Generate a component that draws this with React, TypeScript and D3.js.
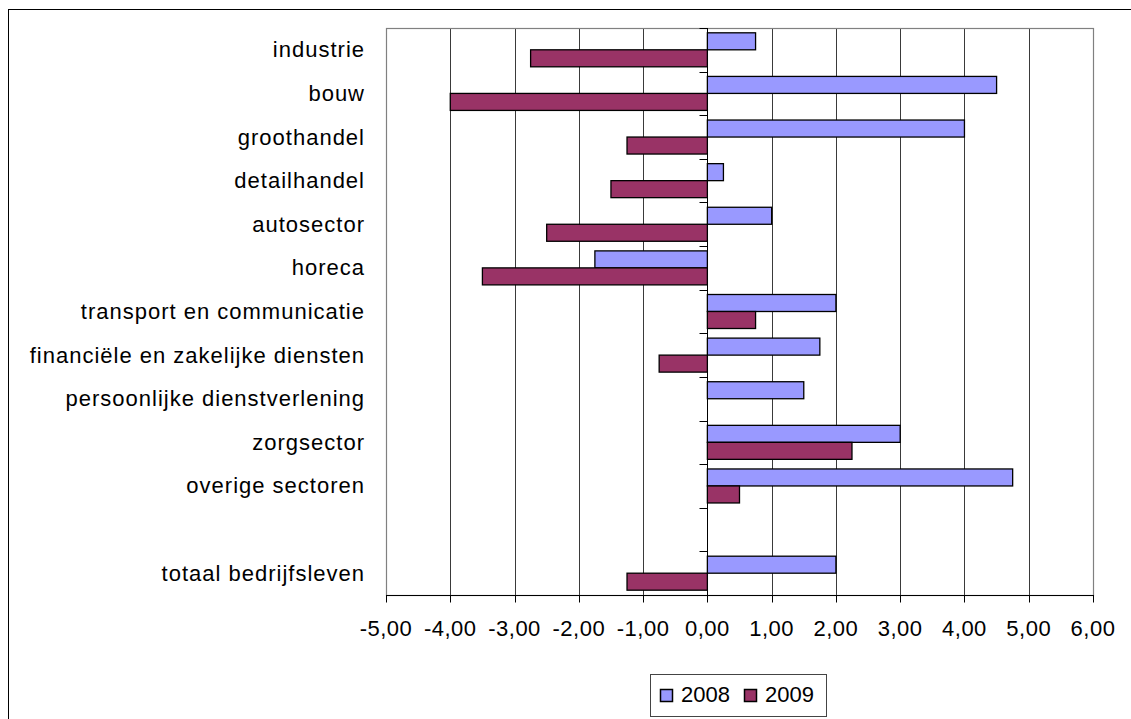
import React, { useRef, useEffect } from "react";
import * as d3 from "d3";

// sectors, top to bottom ("" = empty slot before the total)
const categories = [
  "industrie",
  "bouw",
  "groothandel",
  "detailhandel",
  "autosector",
  "horeca",
  "transport en communicatie",
  "financiële en zakelijke diensten",
  "persoonlijke dienstverlening",
  "zorgsector",
  "overige sectoren",
  "",
  "totaal bedrijfsleven",
];

const values2008 = [0.75, 4.5, 4.0, 0.25, 1.0, -1.75, 2.0, 1.75, 1.5, 3.0, 4.75, null, 2.0];
const values2009 = [-2.75, -4.0, -1.25, -1.5, -2.5, -3.5, 0.75, -0.75, 0, 2.25, 0.5, null, -1.25];

const seriesNames = ["2008", "2009"];
const seriesColors = ["#9999FF", "#993366"];
const xTicks = [-5, -4, -3, -2, -1, 0, 1, 2, 3, 4, 5, 6];

const FONT = "Arial, 'Liberation Sans', sans-serif";

const App: React.FC = () => {
  const svgRef = useRef<SVGSVGElement | null>(null);

  useEffect(() => {
    const svg = d3.select(svgRef.current);
    svg.selectAll("*").remove();

    const W = 1131;
    const H = 719;
    svg.attr("width", W).attr("height", H);

    // outer chart frame (runs off the right and bottom edge)
    svg
      .append("rect")
      .attr("x", 8.5)
      .attr("y", 9.5)
      .attr("width", W + 20)
      .attr("height", H + 20)
      .attr("fill", "white")
      .attr("stroke", "#000")
      .attr("stroke-width", 1);

    const plot = { left: 386, right: 1093, top: 28, bottom: 595 };

    const x = d3.scaleLinear().domain([-5, 6]).range([plot.left, plot.right]);
    const y = d3
      .scaleBand<number>()
      .domain(d3.range(categories.length))
      .range([plot.top, plot.bottom])
      .padding(0);

    const crisp = (v: number) => Math.round(v) + 0.5;

    const g = svg.append("g");

    // gridlines
    g.selectAll(".grid")
      .data(xTicks.filter((t) => t !== -5 && t !== 6 && t !== 0))
      .enter()
      .append("line")
      .attr("x1", (d) => crisp(x(d)))
      .attr("x2", (d) => crisp(x(d)))
      .attr("y1", plot.top)
      .attr("y2", plot.bottom)
      .attr("stroke", "#3a3a3a")
      .attr("stroke-width", 1);

    // plot border
    g.append("rect")
      .attr("x", crisp(plot.left))
      .attr("y", crisp(plot.top))
      .attr("width", Math.round(plot.right) - Math.round(plot.left))
      .attr("height", Math.round(plot.bottom) - Math.round(plot.top))
      .attr("fill", "none")
      .attr("stroke", "#808080")
      .attr("stroke-width", 1.2);

    const barH = 17;
    const bars = [values2008, values2009];
    bars.forEach((vals, si) => {
      g.selectAll(`.bar-${si}`)
        .data(vals.map((v, i) => ({ v, i })).filter((d) => d.v !== null && d.v !== 0))
        .enter()
        .append("rect")
        .attr("x", (d) => Math.min(x(0), x(d.v as number)))
        .attr("width", (d) => Math.abs(x(d.v as number) - x(0)))
        .attr("y", (d) => (y(d.i) as number) + y.bandwidth() / 2 - barH + si * barH)
        .attr("height", barH)
        .attr("fill", seriesColors[si])
        .attr("stroke", "#000")
        .attr("stroke-width", 1.3);
    });

    // zero axis with category ticks
    const x0 = crisp(x(0));
    g.append("line")
      .attr("x1", x0)
      .attr("x2", x0)
      .attr("y1", plot.top)
      .attr("y2", plot.bottom)
      .attr("stroke", "#000")
      .attr("stroke-width", 1);
    g.selectAll(".ytick")
      .data(d3.range(categories.length))
      .enter()
      .append("line")
      .attr("x1", x0 - 8)
      .attr("x2", x0)
      .attr("y1", (d) => crisp(y(d) as number))
      .attr("y2", (d) => crisp(y(d) as number))
      .attr("stroke", "#000");

    // category labels
    g.selectAll(".cat")
      .data(categories)
      .enter()
      .append("text")
      .attr("x", 365)
      .attr("y", (_, i) => (y(i) as number) + y.bandwidth() / 2 + 7.5)
      .attr("text-anchor", "end")
      .attr("font-family", FONT)
      .attr("font-size", 22)
      .attr("letter-spacing", 1)
      .attr("fill", "#000")
      .text((d) => d);

    // x axis
    const xb = crisp(plot.bottom);
    g.append("line")
      .attr("x1", plot.left)
      .attr("x2", plot.right + 1)
      .attr("y1", xb)
      .attr("y2", xb)
      .attr("stroke", "#000");
    g.selectAll(".xtick")
      .data(xTicks)
      .enter()
      .append("line")
      .attr("x1", (d) => crisp(x(d)))
      .attr("x2", (d) => crisp(x(d)))
      .attr("y1", xb)
      .attr("y2", xb + 7)
      .attr("stroke", "#000");
    const fmt = (v: number) => d3.format(".2f")(v).replace(".", ",").replace("−", "-");
    g.selectAll(".xlabel")
      .data(xTicks)
      .enter()
      .append("text")
      .attr("x", (d) => x(d))
      .attr("y", 636)
      .attr("text-anchor", "middle")
      .attr("font-family", FONT)
      .attr("font-size", 22)
      .attr("letter-spacing", 0.5)
      .attr("fill", "#000")
      .text((d) => fmt(d));

    // legend
    const lg = svg.append("g");
    lg.append("rect")
      .attr("x", 650.5)
      .attr("y", 674.5)
      .attr("width", 176)
      .attr("height", 42)
      .attr("fill", "white")
      .attr("stroke", "#444")
      .attr("stroke-width", 1);
    const legendX = [660, 744];
    seriesNames.forEach((name, i) => {
      lg.append("rect")
        .attr("x", legendX[i] + 0.5)
        .attr("y", 689.5)
        .attr("width", 12)
        .attr("height", 12)
        .attr("fill", seriesColors[i])
        .attr("stroke", "#000")
        .attr("stroke-width", 1.5);
      lg.append("text")
        .attr("x", legendX[i] + 21)
        .attr("y", 702)
        .attr("font-family", FONT)
        .attr("font-size", 22)
        .attr("fill", "#000")
        .text(name);
    });
  }, []);

  return (
    <svg
      ref={svgRef}
      style={{ position: "absolute", left: 0, top: 0, display: "block" }}
    />
  );
};

export default App;
